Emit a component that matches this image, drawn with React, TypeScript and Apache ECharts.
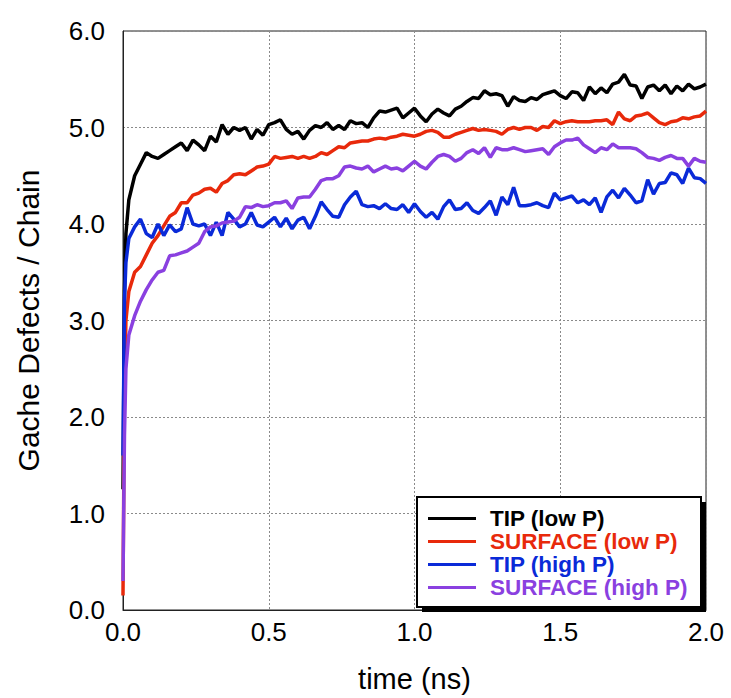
import React, { useEffect, useRef } from "react";
import * as echarts from "echarts";

const TIME = [
  0, 0.005, 0.01,
  0.02, 0.04, 0.06, 0.08, 0.1, 0.12, 0.14, 0.16, 0.18, 0.2,
  0.22, 0.24, 0.26, 0.28, 0.3, 0.32, 0.34, 0.36, 0.38, 0.4,
  0.42, 0.44, 0.46, 0.48, 0.5, 0.52, 0.54, 0.56, 0.58, 0.6,
  0.62, 0.64, 0.66, 0.68, 0.7, 0.72, 0.74, 0.76, 0.78, 0.8,
  0.82, 0.84, 0.86, 0.88, 0.9, 0.92, 0.94, 0.96, 0.98, 1.0,
  1.02, 1.04, 1.06, 1.08, 1.1, 1.12, 1.14, 1.16, 1.18, 1.2,
  1.22, 1.24, 1.26, 1.28, 1.3, 1.32, 1.34, 1.36, 1.38, 1.4,
  1.42, 1.44, 1.46, 1.48, 1.5, 1.52, 1.54, 1.56, 1.58, 1.6,
  1.62, 1.64, 1.66, 1.68, 1.7, 1.72, 1.74, 1.76, 1.78, 1.8,
  1.82, 1.84, 1.86, 1.88, 1.9, 1.92, 1.94, 1.96, 1.98, 2.0,
];

const TIP_LOW = [
  1.25, 3.3, 3.9,
  4.25, 4.5, 4.62, 4.74, 4.7, 4.68, 4.72, 4.76, 4.8, 4.84,
  4.76, 4.87, 4.82, 4.76, 4.91, 4.85, 5.03, 4.93, 5.0, 4.97,
  5.0, 4.88, 4.98, 4.92, 5.03, 5.05, 5.08, 4.98, 4.93, 4.96,
  4.88, 4.97, 5.02, 5.0, 5.05, 4.98, 5.02, 4.98, 5.07, 5.04,
  5.05, 5.0, 5.1, 5.17, 5.16, 5.18, 5.2, 5.1, 5.15, 5.2,
  5.12, 5.06, 5.14, 5.19, 5.15, 5.12, 5.19, 5.22, 5.27, 5.31,
  5.3, 5.38, 5.34, 5.35, 5.33, 5.22, 5.32, 5.28, 5.27, 5.31,
  5.29, 5.34, 5.36, 5.38, 5.33, 5.3, 5.37, 5.36, 5.28, 5.42,
  5.35, 5.41, 5.36, 5.45, 5.47, 5.55, 5.44, 5.43, 5.3, 5.42,
  5.44, 5.38, 5.44, 5.35, 5.43, 5.38, 5.45, 5.4, 5.42, 5.45,
];

const SURFACE_LOW = [
  0.15, 2.3, 3.0,
  3.3, 3.5, 3.56, 3.68, 3.8, 3.88, 3.98, 4.08, 4.12, 4.22,
  4.22, 4.3, 4.32, 4.36, 4.37, 4.33, 4.42, 4.45, 4.51, 4.52,
  4.51, 4.55, 4.59, 4.6, 4.62, 4.7, 4.68, 4.69, 4.7, 4.68,
  4.7, 4.68, 4.7, 4.74, 4.72, 4.76, 4.8, 4.79, 4.84, 4.85,
  4.86, 4.86, 4.88, 4.89, 4.88, 4.9, 4.91, 4.93, 4.92, 4.91,
  4.93, 4.96, 4.97, 4.95, 4.9, 4.9, 4.93, 4.95, 4.97, 4.99,
  4.97, 4.98, 4.97, 4.96, 4.93, 4.98, 5.0, 4.98, 5.0, 5.0,
  4.97, 5.01, 5.0, 5.07, 5.04, 5.06, 5.07, 5.06, 5.06, 5.06,
  5.07, 5.07, 5.08, 5.03, 5.16, 5.09, 5.07, 5.12, 5.13, 5.15,
  5.1, 5.05, 5.03, 5.06, 5.07, 5.1, 5.09, 5.11, 5.12, 5.17,
];

const TIP_HIGH = [
  1.6, 3.2, 3.6,
  3.85, 3.97, 4.05, 3.9, 3.86, 4.0, 3.88, 3.99, 3.92, 3.95,
  4.17, 4.0, 3.98, 4.0, 3.88, 4.02, 3.88, 4.12, 4.05, 3.97,
  4.0, 4.12, 3.99, 3.97, 4.02, 4.07, 3.97, 4.06, 3.95, 4.04,
  4.07, 3.95, 4.08, 4.23, 4.15, 4.08, 4.07, 4.2, 4.28, 4.34,
  4.2, 4.18, 4.19, 4.16, 4.21, 4.16, 4.15, 4.2, 4.12, 4.21,
  4.13, 4.07, 4.12, 4.05, 4.18, 4.25, 4.15, 4.16, 4.22, 4.14,
  4.11, 4.17, 4.24, 4.09, 4.28, 4.2, 4.38, 4.19, 4.19, 4.2,
  4.22, 4.19, 4.17, 4.32, 4.25, 4.27, 4.29, 4.22, 4.25, 4.2,
  4.27, 4.12, 4.28, 4.35, 4.27, 4.37, 4.3, 4.22, 4.24, 4.46,
  4.31, 4.42, 4.43, 4.53, 4.51, 4.42, 4.58, 4.48, 4.47, 4.42,
];

const SURFACE_HIGH = [
  0.3, 1.8, 2.5,
  2.85, 3.05, 3.2, 3.32, 3.42, 3.5, 3.52, 3.67, 3.68, 3.7,
  3.72, 3.76, 3.8, 3.92, 3.97, 3.98, 4.01, 4.02, 4.03, 4.07,
  4.18, 4.17, 4.2, 4.18, 4.19, 4.22, 4.22, 4.24, 4.16, 4.27,
  4.28, 4.28, 4.36, 4.45, 4.47, 4.47, 4.5, 4.59, 4.6, 4.58,
  4.57, 4.6, 4.54, 4.57, 4.6, 4.57, 4.58, 4.55, 4.6, 4.65,
  4.6, 4.57, 4.64, 4.7, 4.72, 4.7, 4.65, 4.68, 4.74, 4.77,
  4.73, 4.79, 4.69, 4.79, 4.77, 4.77, 4.79, 4.77, 4.75, 4.76,
  4.77, 4.78, 4.72, 4.8, 4.84, 4.87, 4.87, 4.89, 4.82, 4.78,
  4.74, 4.79, 4.77, 4.83, 4.79, 4.79, 4.79, 4.78, 4.74, 4.69,
  4.68, 4.66, 4.69, 4.71, 4.68, 4.68, 4.6, 4.68, 4.65, 4.64,
];

const SERIES_NAMES = ["TIP (low P)", "SURFACE (low P)", "TIP (high P)", "SURFACE (high P)"];
const SERIES_VALUES = [TIP_LOW, SURFACE_LOW, TIP_HIGH, SURFACE_HIGH];
const COLORS = ["#000000", "#e8290b", "#0a2ad8", "#8a40e0"];

const FONT = "'Liberation Sans', Arial, Helvetica, sans-serif";

export default function App() {
  const ref = useRef<HTMLDivElement>(null);

  useEffect(() => {
    if (!ref.current) return;
    const chart = echarts.init(ref.current, undefined, { renderer: "svg" });

    const option: any = {
      animation: false,
      backgroundColor: "#ffffff",
      grid: {
        left: 123,
        top: 31,
        right: 25,
        bottom: 85,
        show: true,
        borderColor: "#222",
        borderWidth: 1,
        backgroundColor: "transparent",
      },
      xAxis: {
        type: "value",
        min: 0,
        max: 2,
        interval: 0.5,
        name: "time (ns)",
        nameLocation: "middle",
        nameGap: 54,
        nameTextStyle: { fontFamily: FONT, fontSize: 29, color: "#000" },
        axisLine: { show: true, lineStyle: { color: "#222", width: 1 } },
        axisTick: { show: false },
        axisLabel: {
          fontFamily: FONT,
          fontSize: 26,
          color: "#000",
          margin: 9,
          formatter: (v: number) => v.toFixed(1),
        },
        splitLine: { show: true, lineStyle: { color: "#8a8a8a", type: [2, 2], width: 1 } },
      },
      yAxis: {
        type: "value",
        min: 0,
        max: 6,
        interval: 1,
        name: "Gache Defects / Chain",
        nameLocation: "middle",
        nameGap: 80,
        nameTextStyle: { fontFamily: FONT, fontSize: 30, color: "#000" },
        axisLine: { show: true, lineStyle: { color: "#222", width: 1 } },
        axisTick: { show: false },
        axisLabel: {
          fontFamily: FONT,
          fontSize: 26,
          color: "#000",
          margin: 18,
          formatter: (v: number) => v.toFixed(1),
        },
        splitLine: { show: true, lineStyle: { color: "#8a8a8a", type: [2, 2], width: 1 } },
      },
      legend: {
        orient: "vertical",
        left: 423,
        top: 502,
        itemWidth: 48,
        itemHeight: 3,
        itemGap: 0,
        icon: "rect",
        textStyle: {
          fontFamily: FONT,
          fontSize: 22.5,
          fontWeight: "bold",
          lineHeight: 22.5,
          padding: [0, 0, 0, 9],
        },
        data: SERIES_NAMES.map((n, i) => ({
          name: n,
          icon: "rect",
          textStyle: { color: COLORS[i] },
        })),
        selectedMode: false,
        z: 10,
      },
      graphic: [
        {
          type: "rect",
          z: 5,
          shape: { x: 422, y: 502, width: 284, height: 110 },
          style: { fill: "#000" },
          silent: true,
        },
        {
          type: "rect",
          z: 6,
          shape: { x: 417, y: 497, width: 284, height: 110 },
          style: { fill: "#fff", stroke: "#000", lineWidth: 2 },
          silent: true,
        },
      ],
      series: SERIES_VALUES.map((vals, i) => ({
        name: SERIES_NAMES[i],
        type: "line",
        data: TIME.map((t, j) => [t, vals[j]]),
        showSymbol: false,
        symbol: "none",
        lineStyle: { color: COLORS[i], width: 3.5 },
        itemStyle: { color: COLORS[i] },
        z: 2 + i,
      })),
    };

    chart.setOption(option);
    return () => chart.dispose();
  }, []);

  return (
    <div
      ref={ref}
      style={{ position: "fixed", left: 0, top: 0, width: 731, height: 698 }}
    />
  );
}
